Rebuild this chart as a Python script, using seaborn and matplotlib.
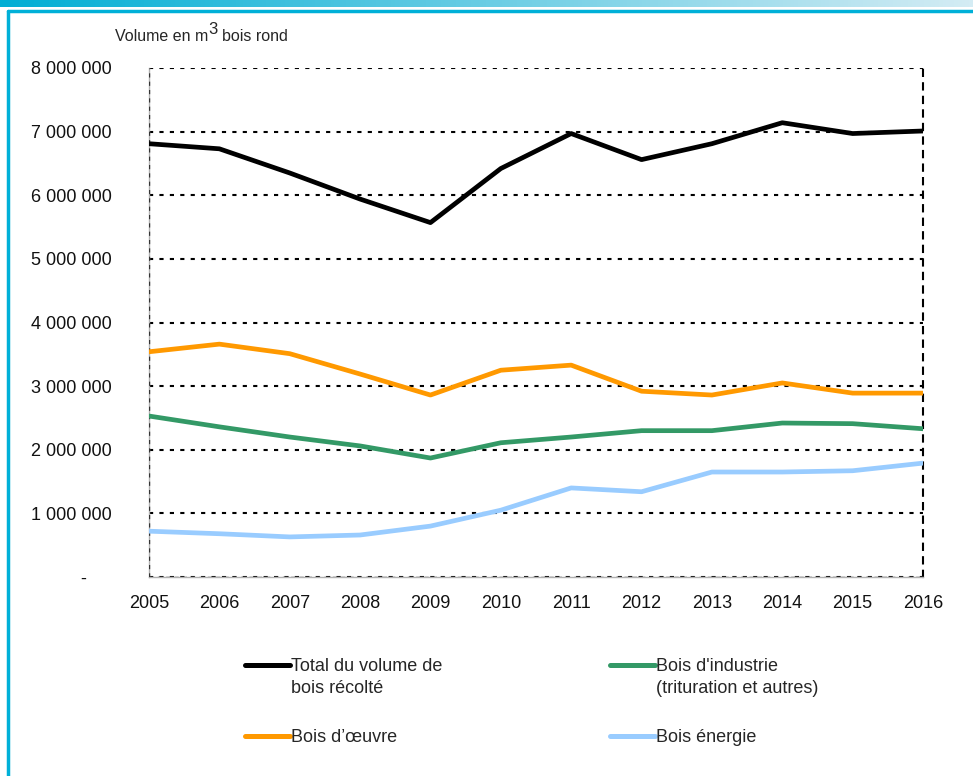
import numpy as np
import pandas as pd
import seaborn as sns
from matplotlib import pyplot as plt
from matplotlib.lines import Line2D
from matplotlib.legend_handler import HandlerLine2D

years = [2005, 2006, 2007, 2008, 2009, 2010, 2011, 2012, 2013, 2014, 2015, 2016]
total = [6810000, 6730000, 6350000, 5940000, 5570000, 6420000, 6970000, 6560000, 6810000, 7140000, 6970000, 7010000]
oeuvre = [3540000, 3660000, 3510000, 3190000, 2860000, 3250000, 3330000, 2920000, 2860000, 3050000, 2890000, 2890000]
industrie = [2530000, 2360000, 2200000, 2060000, 1870000, 2110000, 2200000, 2300000, 2300000, 2420000, 2410000, 2330000]
energie = [720000, 680000, 630000, 660000, 800000, 1050000, 1400000, 1340000, 1650000, 1650000, 1670000, 1790000]

series = ["Total du volume de\nbois récolté", "Bois d\u2019\u0153uvre",
          "Bois d'industrie\n(trituration et autres)", "Bois énergie"]
colors = ["#000000", "#ff9900", "#339966", "#99ccff"]
yticks = [0, 1000000, 2000000, 3000000, 4000000, 5000000, 6000000, 7000000, 8000000]

df = pd.DataFrame({"annee": years * 4,
                   "volume": total + oeuvre + industrie + energie,
                   "serie": np.repeat(series, len(years))})

sns.set_style("white")
plt.rcParams['font.family'] = ['Liberation Sans', 'DejaVu Sans']

fig = plt.figure(figsize=(9.73, 7.76), dpi=100)
ax = fig.add_axes([149/973, 1-577/776, 774/973, 509/776])

sns.lineplot(data=df, x="annee", y="volume", hue="serie", hue_order=series,
             palette=colors, linewidth=3.4, ax=ax, legend=False, zorder=5)

ax.set_xlim(years[0], years[-1])
ax.set_ylim(0, 8000000)
ax.set_xticks(years)
ax.set_xticklabels([str(y) for y in years])
ax.set_yticks(yticks)
ax.set_yticklabels(["-     "] + [f"{v:,}".replace(",", " ") for v in yticks[1:]])
ax.tick_params(axis="both", length=5, color="#b0b0b0", labelsize=13, labelcolor="#111111")
ax.tick_params(axis="y", pad=22)
ax.tick_params(axis="x", pad=8)
ax.set_xlabel("")
ax.set_ylabel("")

ax.yaxis.grid(True, color="black", linestyle=(0, (2, 3)), linewidth=1.5)
ax.spines["top"].set_visible(False)
ax.spines["right"].set_color("black")
ax.spines["right"].set_linestyle((0, (3, 3.5)))
ax.spines["right"].set_linewidth(1.5)
for s in ["left", "bottom"]:
    ax.spines[s].set_color("#b0b0b0")
    ax.spines[s].set_linewidth(1)
ax.axvline(years[0], color="#333333", linestyle=(0, (3, 3)), linewidth=1, zorder=3)
ax.axhline(0, color="#333333", linestyle=(0, (3, 3)), linewidth=1, zorder=3)

# titre de l'axe avec exposant plein
fig.canvas.draw()
r = fig.canvas.get_renderer()
t1 = fig.text(115/973, 1-41/776, "Volume en m", fontsize=11.5, va="baseline", ha="left")
w1 = t1.get_window_extent(r).x1
t2 = fig.text(w1/973, 1-34/776, "3", fontsize=12, va="baseline", ha="left")
w2 = t2.get_window_extent(r).x1
fig.text(w2/973 + 4/973, 1-41/776, "bois rond", fontsize=11.5, va="baseline", ha="left")


class TopLine(HandlerLine2D):
    # aligne le trait sur la premiere ligne du texte
    def create_artists(self, legend, orig_handle, xdescent, ydescent, width, height, fontsize, trans):
        arts = super().create_artists(legend, orig_handle, xdescent, ydescent, width, height, fontsize, trans)
        if orig_handle.get_label().count("\n"):
            for a in arts:
                a.set_ydata(np.asarray(a.get_ydata()) + fontsize * 0.68)
        return arts


handles = [Line2D([0], [0], color=c, lw=3.6, solid_capstyle="round", label=s)
           for c, s in zip(colors, series)]
leg = fig.legend(handles, series, ncol=2, frameon=False, loc="upper left",
                 bbox_to_anchor=(245/973, 1-658/776), fontsize=13,
                 handlelength=2.5, handletextpad=0.05, columnspacing=9.3,
                 labelspacing=1.8, borderpad=0, borderaxespad=0,
                 handler_map={Line2D: TopLine()})
for t in leg.get_texts():
    t.set_linespacing(1.35)

# cadre
grad = np.linspace(0, 1, 256).reshape(1, -1)
bar = fig.add_axes([0, 1-7/776, 1, 7/776])
cmap = plt.matplotlib.colors.LinearSegmentedColormap.from_list("b", ["#00aed4", "#d4ecf4"])
bar.imshow(grad, aspect="auto", cmap=cmap)
bar.axis("off")
fig.add_artist(Line2D([8/973, 1], [1-11/776, 1-11/776], color="#00b0d8", lw=2.5))
fig.add_artist(Line2D([8/973, 8/973], [0, 1-11/776], color="#00b0d8", lw=2.5))

fig.savefig("out.png", dpi=100)
